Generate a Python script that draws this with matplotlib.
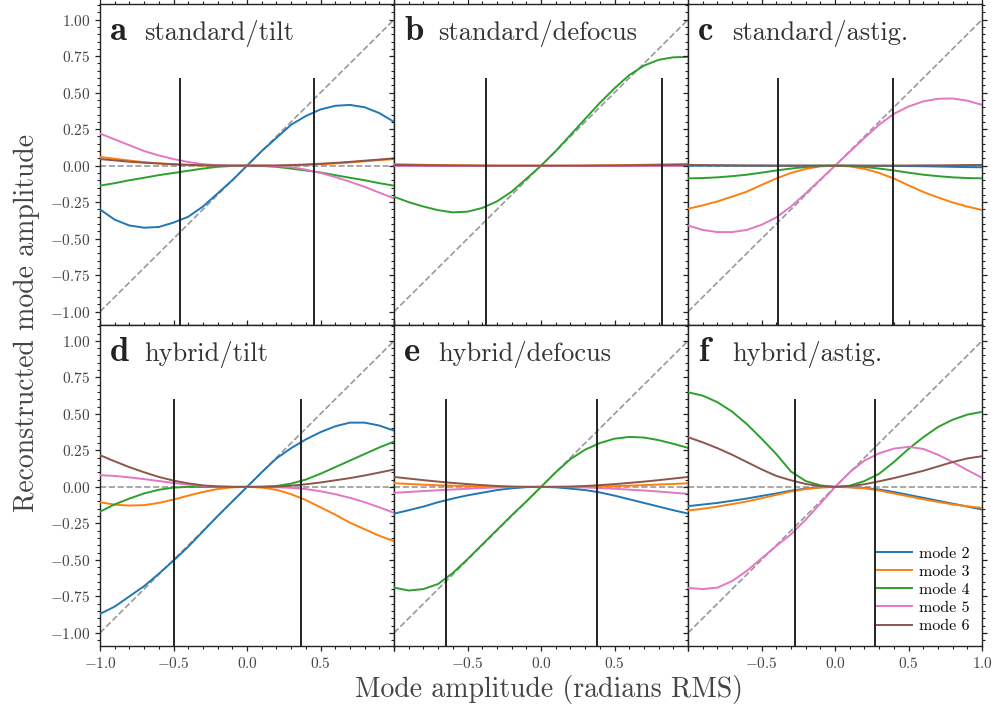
import matplotlib
matplotlib.use("Agg")
import matplotlib.pyplot as plt
from matplotlib.ticker import MultipleLocator, FuncFormatter

plt.rcParams['font.family'] = 'serif'
plt.rcParams['font.serif'] = ['cmr10']
plt.rcParams['mathtext.fontset'] = 'cm'
plt.rcParams['axes.formatter.use_mathtext'] = True
plt.rcParams['axes.unicode_minus'] = True

# injected mode amplitude (radians RMS)
x = [-1.0, -0.9, -0.8, -0.7, -0.6, -0.5, -0.4, -0.3, -0.2, -0.1, 0.0,
     0.1, 0.2, 0.3, 0.4, 0.5, 0.6, 0.7, 0.8, 0.9, 1.0]

mode_names = ['mode 2', 'mode 3', 'mode 4', 'mode 5', 'mode 6']
mode_colors = ['#1f77b4', '#ff7f0e', '#2ca02c', '#e377c2', '#8c564b']

letters = ['a', 'b', 'c', 'd', 'e', 'f']
titles = ['standard/tilt', 'standard/defocus', 'standard/astig.',
          'hybrid/tilt', 'hybrid/defocus', 'hybrid/astig.']

# capture range limits (vertical lines)
limits_a = [-0.455, 0.455]
limits_b = [-0.373, 0.82]
limits_c = [-0.389, 0.395]
limits_d = [-0.5, 0.37]
limits_e = [-0.646, 0.382]
limits_f = [-0.273, 0.27]

# panel a: standard/tilt
a_m2 = [-0.30, -0.37, -0.41, -0.425, -0.42, -0.39, -0.35, -0.28, -0.19, -0.10, 0.0,
        0.10, 0.19, 0.28, 0.34, 0.385, 0.41, 0.416, 0.40, 0.36, 0.30]
a_m3 = [0.06, 0.047, 0.035, 0.024, 0.015, 0.008, 0.004, 0.001, 0.0, 0.0, 0.0,
        0.0, 0.0, 0.002, 0.005, 0.01, 0.015, 0.022, 0.03, 0.038, 0.045]
a_m4 = [-0.137, -0.12, -0.10, -0.083, -0.065, -0.05, -0.035, -0.02, -0.008, -0.002, 0.0,
        -0.002, -0.008, -0.02, -0.033, -0.047, -0.065, -0.083, -0.10, -0.12, -0.137]
a_m5 = [0.22, 0.18, 0.14, 0.10, 0.07, 0.045, 0.025, 0.01, 0.003, 0.0, 0.0,
        0.0, -0.003, -0.01, -0.027, -0.05, -0.078, -0.11, -0.145, -0.185, -0.224]
a_m6 = [0.045, 0.036, 0.027, 0.02, 0.015, 0.01, 0.006, 0.003, 0.001, 0.0, 0.0,
        0.0, 0.001, 0.004, 0.008, 0.013, 0.019, 0.026, 0.034, 0.042, 0.05]

# panel b: standard/defocus
b_m2 = [0.0, 0.0, 0.0, 0.0, 0.0, 0.0, 0.0, 0.0, 0.0, 0.0, 0.0,
        0.0, 0.0, 0.0, 0.0, 0.0, 0.0, 0.0, 0.0, 0.0, 0.0]
b_m3 = [0.01, 0.008, 0.006, 0.004, 0.003, 0.002, 0.001, 0.0, 0.0, 0.0, 0.0,
        0.0, 0.0, 0.001, 0.002, 0.003, 0.004, 0.006, 0.008, 0.01, 0.012]
b_m4 = [-0.213, -0.25, -0.28, -0.305, -0.32, -0.315, -0.29, -0.245, -0.178, -0.09, 0.0,
        0.10, 0.21, 0.32, 0.43, 0.53, 0.62, 0.685, 0.725, 0.742, 0.745]
b_m5 = [0.0, 0.0, 0.0, 0.0, 0.0, 0.0, 0.0, 0.0, 0.0, 0.0, 0.0,
        0.0, 0.0, 0.0, 0.0, 0.0, 0.0, 0.0, 0.0, 0.0, 0.0]
b_m6 = [0.005, 0.004, 0.003, 0.002, 0.001, 0.001, 0.0, 0.0, 0.0, 0.0, 0.0,
        0.0, 0.0, 0.0, 0.001, 0.001, 0.002, 0.003, 0.004, 0.005, 0.006]

# panel c: standard/astig.
c_m2 = [0.0, 0.0, 0.0, 0.0, 0.0, 0.0, 0.0, 0.0, 0.0, 0.0, 0.0,
        0.0, -0.001, -0.001, -0.002, -0.003, -0.004, -0.006, -0.008, -0.01, -0.011]
c_m3 = [-0.295, -0.272, -0.245, -0.212, -0.178, -0.132, -0.088, -0.05, -0.022, -0.005, 0.0,
        -0.005, -0.022, -0.05, -0.088, -0.135, -0.18, -0.218, -0.252, -0.28, -0.304]
c_m4 = [-0.087, -0.085, -0.08, -0.072, -0.062, -0.048, -0.033, -0.02, -0.009, -0.002, 0.0,
        -0.002, -0.009, -0.02, -0.033, -0.048, -0.062, -0.072, -0.08, -0.085, -0.087]
c_m5 = [-0.41, -0.44, -0.455, -0.455, -0.44, -0.405, -0.355, -0.28, -0.19, -0.095, 0.0,
        0.095, 0.19, 0.28, 0.355, 0.405, 0.44, 0.458, 0.46, 0.445, 0.416]
c_m6 = [0.005, 0.004, 0.003, 0.002, 0.001, 0.001, 0.0, 0.0, 0.0, 0.0, 0.0,
        0.0, 0.0, 0.0, 0.001, 0.001, 0.002, 0.002, 0.003, 0.004, 0.005]

# panel d: hybrid/tilt
d_m2 = [-0.87, -0.82, -0.75, -0.68, -0.595, -0.505, -0.41, -0.305, -0.2, -0.1, 0.0,
        0.1, 0.195, 0.265, 0.325, 0.375, 0.415, 0.44, 0.44, 0.42, 0.385]
d_m3 = [-0.105, -0.122, -0.128, -0.125, -0.11, -0.087, -0.06, -0.035, -0.015, -0.003, 0.0,
        -0.005, -0.02, -0.05, -0.09, -0.14, -0.19, -0.245, -0.29, -0.335, -0.372]
d_m4 = [-0.17, -0.12, -0.08, -0.045, -0.02, -0.005, 0.0, 0.0, 0.0, 0.0, 0.0,
        0.001, 0.006, 0.022, 0.05, 0.09, 0.135, 0.18, 0.225, 0.27, 0.31]
d_m5 = [0.08, 0.075, 0.065, 0.053, 0.04, 0.027, 0.015, 0.007, 0.002, 0.0, 0.0,
        0.0, -0.002, -0.007, -0.015, -0.03, -0.05, -0.075, -0.105, -0.14, -0.178]
d_m6 = [0.217, 0.175, 0.135, 0.1, 0.068, 0.043, 0.024, 0.01, 0.003, 0.0, 0.0,
        0.0, 0.002, 0.008, 0.018, 0.03, 0.045, 0.06, 0.078, 0.098, 0.119]

# panel e: hybrid/defocus
e_m2 = [-0.183, -0.16, -0.135, -0.105, -0.08, -0.058, -0.04, -0.022, -0.01, -0.002, 0.0,
        -0.003, -0.012, -0.022, -0.038, -0.06, -0.085, -0.11, -0.135, -0.16, -0.183]
e_m3 = [0.025, 0.02, 0.015, 0.011, 0.008, 0.005, 0.003, 0.001, 0.0, 0.0, 0.0,
        0.0, 0.0, 0.001, 0.003, 0.005, 0.008, 0.012, 0.016, 0.02, 0.025]
e_m4 = [-0.69, -0.71, -0.70, -0.665, -0.59, -0.495, -0.395, -0.295, -0.195, -0.1, 0.0,
        0.1, 0.19, 0.255, 0.3, 0.33, 0.342, 0.338, 0.32, 0.295, 0.267]
e_m5 = [-0.041, -0.035, -0.029, -0.023, -0.018, -0.013, -0.008, -0.004, -0.001, 0.0, 0.0,
        0.0, -0.001, -0.004, -0.008, -0.013, -0.019, -0.025, -0.032, -0.04, -0.048]
e_m6 = [0.068, 0.057, 0.046, 0.036, 0.027, 0.019, 0.012, 0.006, 0.002, 0.0, 0.0,
        0.0, 0.002, 0.006, 0.012, 0.019, 0.027, 0.036, 0.046, 0.057, 0.068]

# panel f: hybrid/astig.
f_m2 = [-0.132, -0.121, -0.11, -0.095, -0.08, -0.062, -0.045, -0.026, -0.012, -0.003, 0.0,
        -0.002, -0.008, -0.018, -0.035, -0.055, -0.075, -0.095, -0.115, -0.135, -0.155]
f_m3 = [-0.162, -0.15, -0.135, -0.118, -0.1, -0.078, -0.055, -0.032, -0.015, -0.004, 0.0,
        -0.003, -0.01, -0.025, -0.045, -0.065, -0.085, -0.103, -0.12, -0.133, -0.144]
f_m4 = [0.648, 0.625, 0.58, 0.515, 0.43, 0.33, 0.225, 0.105, 0.04, 0.01, 0.0,
        0.008, 0.04, 0.09, 0.17, 0.26, 0.34, 0.41, 0.46, 0.495, 0.514]
f_m5 = [-0.692, -0.70, -0.69, -0.645, -0.575, -0.49, -0.405, -0.325, -0.225, -0.115, 0.0,
        0.1, 0.18, 0.23, 0.262, 0.274, 0.26, 0.22, 0.17, 0.115, 0.062]
f_m6 = [0.34, 0.305, 0.265, 0.22, 0.17, 0.12, 0.075, 0.045, 0.02, 0.005, 0.0,
        0.005, 0.018, 0.038, 0.06, 0.085, 0.11, 0.14, 0.17, 0.195, 0.21]

panels = [
    ([a_m2, a_m3, a_m4, a_m5, a_m6], limits_a),
    ([b_m2, b_m3, b_m4, b_m5, b_m6], limits_b),
    ([c_m2, c_m3, c_m4, c_m5, c_m6], limits_c),
    ([d_m2, d_m3, d_m4, d_m5, d_m6], limits_d),
    ([e_m2, e_m3, e_m4, e_m5, e_m6], limits_e),
    ([f_m2, f_m3, f_m4, f_m5, f_m6], limits_f),
]

# which x tick labels are shown on the bottom row
xlabels_shown = [[], [], [], [-1.0, -0.5, 0.0, 0.5], [-0.5, 0.0, 0.5], [-0.5, 0.0, 0.5, 1.0]]

ylo, yhi = -1.09, 1.11

fig, axes = plt.subplots(2, 3, figsize=(9.94, 7.17), dpi=100, sharey=True)
fig.subplots_adjust(left=0.1006, right=0.988, top=0.995, bottom=0.099, wspace=0, hspace=0)

for i, ax in enumerate(axes.flat):
    curves, lims = panels[i]
    ax.plot([-1, 1], [-1, 1], ls='--', color='#999999', lw=1.2, zorder=1)
    ax.axhline(0, ls='--', color='#999999', lw=1.2, zorder=1)
    for y, name, col in zip(curves, mode_names, mode_colors):
        ax.plot(x, y, color=col, lw=1.4, label=name, zorder=3,
                solid_joinstyle='round')
    ax.vlines(lims, ylo, 0.6, color='#222222', lw=1.4, zorder=4)

    ax.set_xlim(-1, 1)
    ax.set_ylim(ylo, yhi)
    ax.xaxis.set_major_locator(MultipleLocator(0.5))
    ax.xaxis.set_minor_locator(MultipleLocator(0.1))
    ax.yaxis.set_major_locator(MultipleLocator(0.25))
    ax.yaxis.set_minor_locator(MultipleLocator(0.05))
    ax.tick_params(which='both', direction='out', top=True, right=True,
                   labelsize=11, colors='#222222', labelcolor='#444444')
    ax.tick_params(which='major', length=3.5, width=0.9)
    ax.tick_params(which='minor', length=2.0, width=0.8)

    shown = xlabels_shown[i]
    ax.xaxis.set_major_formatter(FuncFormatter(
        lambda v, pos, shown=shown: '$%.1f$' % v if any(abs(v - s) < 1e-6 for s in shown) else ''))
    if i % 3 == 0:
        ax.yaxis.set_major_formatter(FuncFormatter(lambda v, pos: '$%.2f$' % v))
    else:
        ax.tick_params(labelleft=False)
    if i < 3:
        ax.tick_params(labelbottom=False)

    for sp in ax.spines.values():
        sp.set_color('#222222')
        sp.set_linewidth(1.0)

    ax.text(0.035, 0.888, letters[i], transform=ax.transAxes, fontsize=25,
            family='cmb10', color='#222222', va='baseline', ha='left')
    ax.text(0.15, 0.888, titles[i], transform=ax.transAxes, fontsize=19,
            color='#333333', va='baseline', ha='left')

axes[1, 2].legend(loc='lower right', frameon=False, fontsize=11.5,
                  handlelength=2.2, handletextpad=0.4, labelspacing=0.25,
                  borderaxespad=0.4)

fig.text(0.027, 0.55, 'Reconstructed mode amplitude', rotation=90,
         ha='center', va='center', fontsize=20, color='#444444')
fig.text(0.552, 0.038, 'Mode amplitude (radians RMS)',
         ha='center', va='center', fontsize=20, color='#444444')

fig.savefig('out.png', dpi=100)
